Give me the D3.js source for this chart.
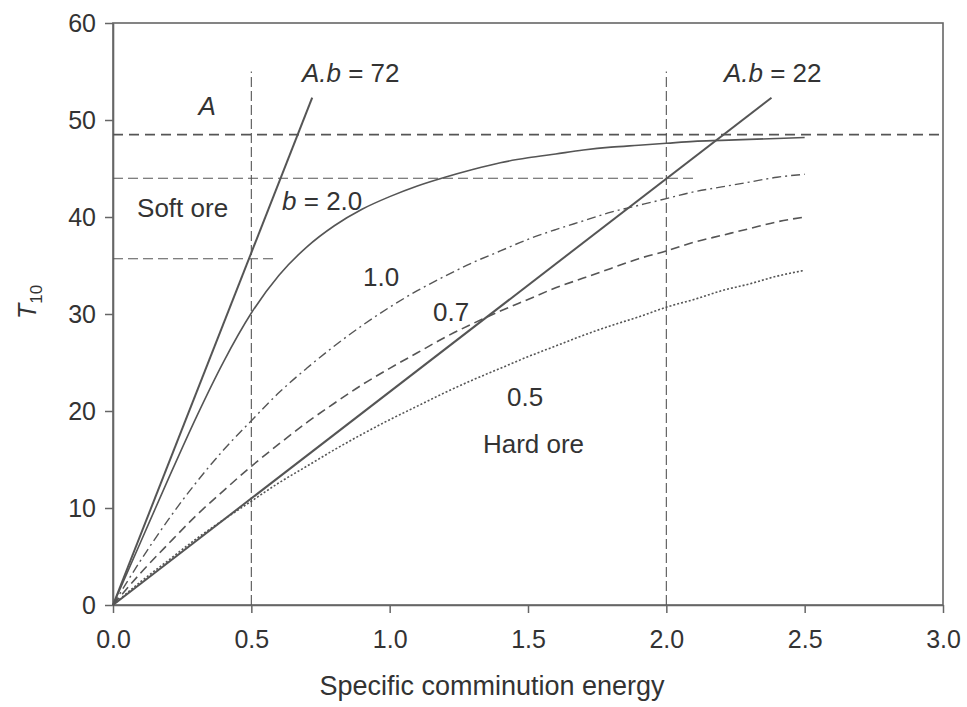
<!DOCTYPE html>
<html>
<head>
<meta charset="utf-8">
<script src="https://cdn.jsdelivr.net/npm/d3@7"></script>
<style>
  body { margin: 0; background: #fff; }
  text { font-family: "Liberation Sans", Arial, sans-serif; fill: #333; }
</style>
</head>
<body>
<div id="chart"></div>
<script>
let width = 967
let height = 707
let margin = {top: 23, right: 24, bottom: 102, left: 113}

// specific comminution energy (x) and T10
let energy = [0, 0.1, 0.2, 0.3, 0.4, 0.5, 0.6, 0.7, 0.8, 0.9, 1.0, 1.1, 1.2, 1.3,
  1.4, 1.5, 1.6, 1.7, 1.8, 1.9, 2.0, 2.1, 2.2, 2.3, 2.4, 2.5]
let t10b20 = [0, 6.5, 13.0, 19.3, 25.1, 30.1, 34.0, 36.9, 39.1, 40.8, 42.1, 43.2, 44.1,
  44.9, 45.6, 46.1, 46.5, 46.9, 47.2, 47.4, 47.6, 47.8, 47.9, 48.0, 48.1, 48.2]
let t10b10 = [0, 4.6, 8.8, 12.6, 16.0, 19.0, 21.9, 24.4, 26.7, 28.8, 30.7, 32.4, 33.9,
  35.3, 36.5, 37.7, 38.7, 39.6, 40.5, 41.2, 41.9, 42.6, 43.1, 43.6, 44.1, 44.4]
let t10b07 = [0, 3.3, 6.3, 9.2, 11.8, 14.3, 16.6, 18.8, 20.8, 22.7, 24.4, 26.0, 27.6,
  29.0, 30.3, 31.5, 32.7, 33.7, 34.7, 35.7, 36.5, 37.4, 38.1, 38.8, 39.5, 40.0]
let t10b05 = [0, 2.4, 4.6, 6.8, 8.8, 10.7, 12.6, 14.3, 16.0, 17.6, 19.1, 20.5, 21.9,
  23.2, 24.4, 25.6, 26.7, 27.8, 28.8, 29.7, 30.7, 31.5, 32.4, 33.1, 33.9, 34.5]

// straight A.b lines: start and end points
let ab72Energy = [0, 0.72]
let ab72T10 = [0, 52.3]
let ab22Energy = [0, 2.38]
let ab22T10 = [0, 52.3]

// reference lines
let hRefT10 = [48.5, 44, 35.7]
let hRefEnd = [3.0, 2.1, 0.58]
let vRefEnergy = [0.5, 2.0]
let vRefTop = 55

let xTicks = [0, 0.5, 1.0, 1.5, 2.0, 2.5, 3.0]
let yTicks = [0, 10, 20, 30, 40, 50, 60]

let svg = d3.select('#chart')
  .append('svg')
  .attr('width', width)
  .attr('height', height)
  .style('background', '#fff')

let x = d3.scaleLinear()
  .domain([0, 3])
  .range([margin.left, width - margin.right])

let y = d3.scaleLinear()
  .domain([0, 60])
  .range([height - margin.bottom, margin.top])

let plotW = width - margin.right - margin.left

// frame
svg.append('rect')
  .attr('x', margin.left)
  .attr('y', margin.top)
  .attr('width', plotW)
  .attr('height', y(0) - margin.top)
  .attr('fill', 'none')
  .attr('stroke', '#666')
  .attr('stroke-width', 1.6)

let xAxis = svg.append('g')
  .attr('transform', `translate(0,${y(0)})`)
  .call(d3.axisBottom(x).tickValues(xTicks).tickFormat(d3.format('.1f'))
    .tickSize(8).tickSizeOuter(0).tickPadding(17))

let yAxis = svg.append('g')
  .attr('transform', `translate(${margin.left},0)`)
  .call(d3.axisLeft(y).tickValues(yTicks).tickSize(8).tickSizeOuter(0).tickPadding(9))

svg.selectAll('.domain').attr('stroke', '#666').attr('stroke-width', 1.6)
svg.selectAll('.tick line').attr('stroke', '#666').attr('stroke-width', 1.5)
svg.selectAll('.tick text')
  .style('font-size', '25px')
  .style('font-family', '"Liberation Sans", Arial, sans-serif')
  .attr('fill', '#333')

// axis titles
svg.append('text')
  .attr('x', 492)
  .attr('y', 695)
  .attr('text-anchor', 'middle')
  .style('font-size', '27px')
  .text('Specific comminution energy')

let yTitle = svg.append('text')
  .attr('transform', 'translate(36,302) rotate(-90)')
  .attr('text-anchor', 'middle')
  .style('font-size', '25px')
yTitle.append('tspan').style('font-style', 'italic').text('T')
yTitle.append('tspan').attr('dy', 6).style('font-size', '17px').text('10')

// reference dashed lines
let plot = svg.append('g')

plot.selectAll('.href')
  .data(hRefT10)
  .join('line')
  .attr('class', 'href')
  .attr('x1', x(0))
  .attr('x2', (d, i) => x(hRefEnd[i]))
  .attr('y1', d => y(d))
  .attr('y2', d => y(d))
  .attr('stroke', '#555')
  .attr('stroke-width', (d, i) => i == 0 ? 1.7 : 1.1)
  .attr('stroke-dasharray', (d, i) => i == 0 ? '10,6' : '10,5')

plot.selectAll('.vref')
  .data(vRefEnergy)
  .join('line')
  .attr('class', 'vref')
  .attr('x1', d => x(d))
  .attr('x2', d => x(d))
  .attr('y1', y(0))
  .attr('y2', y(vRefTop))
  .attr('stroke', '#555')
  .attr('stroke-width', 1.1)
  .attr('stroke-dasharray', '10,4')

// curves
let curves = [
  {vals: t10b20, dash: null, w: 1.6},
  {vals: t10b10, dash: '9,4,2,4', w: 1.4},
  {vals: t10b07, dash: '9,5', w: 1.6},
  {vals: t10b05, dash: '2,2', w: 1.6}
]

let line = d3.line()
  .x(d => x(d[0]))
  .y(d => y(d[1]))
  .curve(d3.curveMonotoneX)

plot.selectAll('.curve')
  .data(curves)
  .join('path')
  .attr('class', 'curve')
  .attr('d', c => line(energy.map((e, i) => [e, c.vals[i]])))
  .attr('fill', 'none')
  .attr('stroke', '#555')
  .attr('stroke-width', c => c.w)
  .attr('stroke-dasharray', c => c.dash)

let abLines = [
  d3.zip(ab72Energy, ab72T10),
  d3.zip(ab22Energy, ab22T10)
]

plot.selectAll('.ab')
  .data(abLines)
  .join('path')
  .attr('class', 'ab')
  .attr('d', d3.line().x(d => x(d[0])).y(d => y(d[1])))
  .attr('fill', 'none')
  .attr('stroke', '#555')
  .attr('stroke-width', 2)

// annotations (data coords)
function label(e, t, parts, anchor) {
  let txt = svg.append('text')
    .attr('x', x(e))
    .attr('y', y(t))
    .attr('text-anchor', anchor || 'start')
    .style('font-size', '26px')
  parts.forEach(p => {
    txt.append('tspan')
      .style('font-style', p[1] ? 'italic' : 'normal')
      .text(p[0])
  })
}

label(0.34, 50.5, [['A', true]], 'middle')
label(0.683, 53.9, [['A.b', true], [' = 72', false]])
label(2.208, 53.9, [['A.b', true], [' = 22', false]])
label(0.087, 40.0, [['Soft ore', false]])
label(0.611, 40.7, [['b', true], [' = 2.0', false]])
label(0.904, 32.9, [['1.0', false]])
label(1.157, 29.3, [['0.7', false]])
label(1.424, 20.5, [['0.5', false]])
label(1.337, 15.7, [['Hard ore', false]])
</script>
</body>
</html>
